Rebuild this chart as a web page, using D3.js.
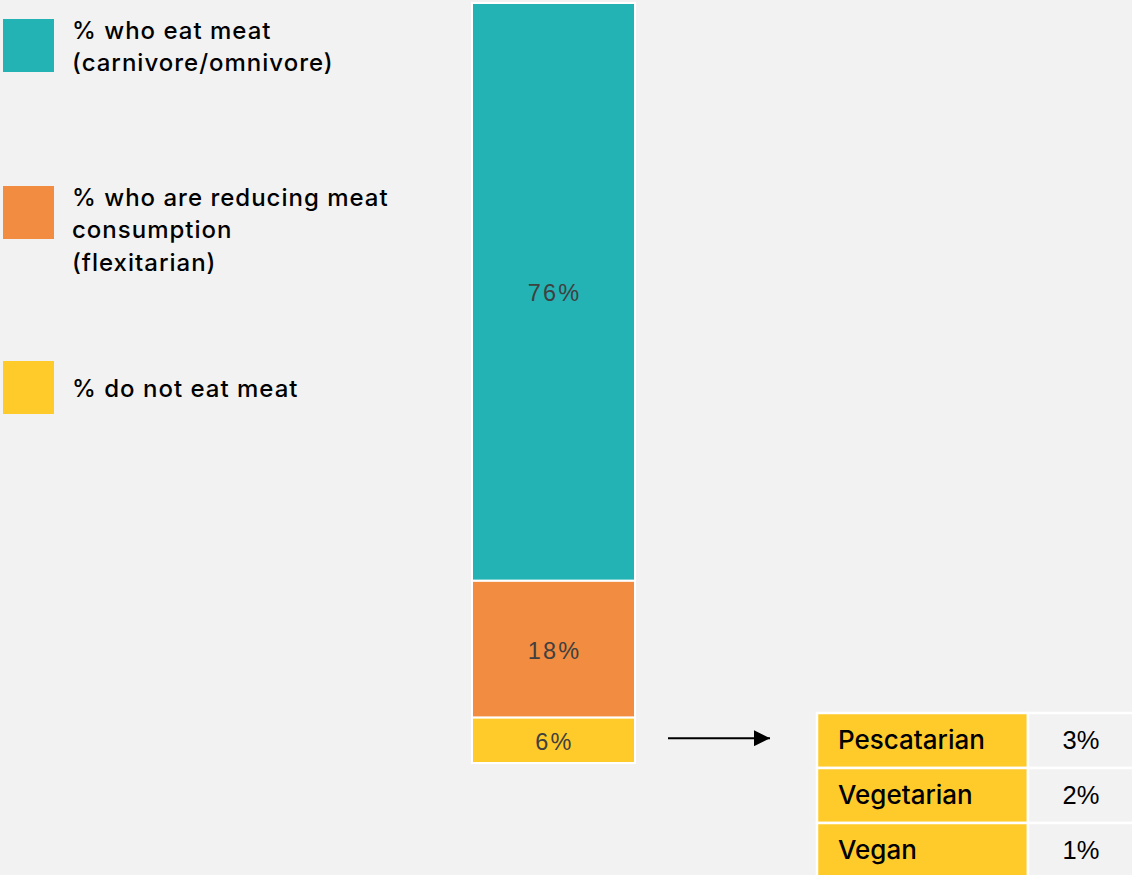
<!DOCTYPE html>
<html>
<head>
<meta charset="utf-8">
<script src="https://cdn.jsdelivr.net/npm/d3@7"></script>
<style>
  html, body { margin: 0; padding: 0; background: #f2f2f2; }
  svg { display: block; }
</style>
</head>
<body>
<svg id="chart" width="1132" height="875"></svg>
<script>
// Diet groups, stacked from the bottom up
const groups = ["% do not eat meat", "% who are reducing meat consumption (flexitarian)", "% who eat meat (carnivore/omnivore)"];
const groupValues = [6, 18, 76];
const groupColors = ["#ffcb2b", "#f28c40", "#23b3b5"];

// Legend entries (top to bottom) with their wrapped lines
const legendLines = [
  ["% who eat meat", "(carnivore/omnivore)"],
  ["% who are reducing meat", "consumption", "(flexitarian)"],
  ["% do not eat meat"]
];
const legendColors = ["#23b3b5", "#f28c40", "#ffcb2b"];

// Breakdown of the non-meat-eaters
const subTypes = ["Pescatarian", "Vegetarian", "Vegan"];
const subValues = [3, 2, 1];

const svg = d3.select("#chart");
const bg = "#f2f2f2";
const labelFont = "'Liberation Sans', Arial, Helvetica, sans-serif";
const textFont = "Inter, 'Noto Sans', sans-serif";

// ---- stacked bar ----
const y = d3.scaleLinear().domain([0, 100]).range([763, 3]);
const barX = 472, barW = 163;

let acc = 0;
const segs = groupValues.map((v, i) => {
  const s = { name: groups[i], v, y0: acc, y1: acc + v, color: groupColors[i] };
  acc += v;
  return s;
});

const bar = svg.append("g");
bar.selectAll("rect")
  .data(segs)
  .join("rect")
  .attr("x", barX)
  .attr("width", barW)
  .attr("y", d => y(d.y1))
  .attr("height", d => y(d.y0) - y(d.y1))
  .attr("fill", d => d.color)
  .attr("stroke", "#ffffff")
  .attr("stroke-width", 2);

bar.selectAll("text")
  .data(segs)
  .join("text")
  .attr("x", barX + barW / 2 + 1)
  .attr("y", d => (y(d.y0) + y(d.y1)) / 2 + 9.5)
  .attr("text-anchor", "middle")
  .attr("font-family", labelFont)
  .attr("font-size", 23.5)
  .attr("letter-spacing", 2.2)
  .attr("fill", "#404040")
  .text(d => d.v + "%");

// ---- legend ----
const legendTops = [19, 186, 361];
const legendBaselines = [38.5, 205.5, 397];
const legend = svg.append("g");
legendLines.forEach((lines, i) => {
  legend.append("rect")
    .attr("x", 3).attr("y", legendTops[i])
    .attr("width", 51).attr("height", 53)
    .attr("fill", legendColors[i]);
  const t = legend.append("text")
    .attr("x", 72)
    .attr("y", legendBaselines[i])
    .attr("font-family", textFont)
    .attr("font-size", 24)
    .attr("font-weight", 500)
    .attr("letter-spacing", 1.0)
    .attr("fill", "#000");
  lines.forEach((ln, j) => {
    t.append("tspan").attr("x", 72).attr("dy", j === 0 ? 0 : 32.5).text(ln);
  });
});

// ---- arrow ----
const defs = svg.append("defs");
defs.append("marker")
  .attr("id", "arrowhead")
  .attr("viewBox", "0 0 10 10")
  .attr("refX", 10).attr("refY", 5)
  .attr("markerWidth", 8).attr("markerHeight", 8)
  .attr("markerUnits", "strokeWidth")
  .attr("orient", "auto")
  .append("path").attr("d", "M0,0 L10,5 L0,10 Z").attr("fill", "#000");

const arrowY = (y(0) + y(groupValues[0])) / 2 - 2;
svg.append("line")
  .attr("x1", 668).attr("x2", 770)
  .attr("y1", arrowY).attr("y2", arrowY)
  .attr("stroke", "#000").attr("stroke-width", 2)
  .attr("marker-end", "url(#arrowhead)");

// ---- breakdown table ----
const rowY = d3.scaleBand().domain(subTypes).range([713, 878]).paddingInner(0);
const table = svg.append("g");
const rows = table.selectAll("g")
  .data(subTypes.map((s, i) => ({ s, v: subValues[i] })))
  .join("g")
  .attr("transform", d => `translate(0,${rowY(d.s)})`);

rows.append("rect")
  .attr("x", 817).attr("y", 0)
  .attr("width", 211).attr("height", rowY.bandwidth())
  .attr("fill", "#ffcb2b")
  .attr("stroke", "#ffffff").attr("stroke-width", 2.5);

rows.append("rect")
  .attr("x", 1028).attr("y", 0)
  .attr("width", 110).attr("height", rowY.bandwidth())
  .attr("fill", bg)
  .attr("stroke", "#ffffff").attr("stroke-width", 2.5);

rows.append("text")
  .attr("x", 838)
  .attr("y", 35.5)
  .attr("font-family", textFont)
  .attr("font-size", 26)
  .attr("font-weight", 500)
  .attr("fill", "#000")
  .text(d => d.s);

rows.append("text")
  .attr("x", 1081)
  .attr("y", 35.5)
  .attr("text-anchor", "middle")
  .attr("font-family", labelFont)
  .attr("font-size", 25.5)
  .attr("fill", "#000")
  .text(d => d.v + "%");
</script>
</body>
</html>
